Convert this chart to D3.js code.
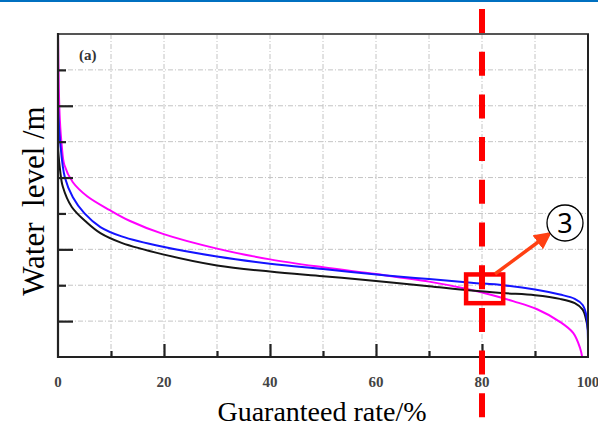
<!DOCTYPE html>
<html><head><meta charset="utf-8">
<script src="https://cdn.jsdelivr.net/npm/d3@7"></script>
<style>html,body{margin:0;padding:0;background:#fff;}svg{display:block;}</style>
</head><body>
<svg id="c" width="598" height="427"></svg>
<script>
const xTicks = [0, 20, 40, 60, 80, 100];
const xMinorTicks = [10, 30, 50, 70, 90];
const yMajorTicks = [1, 3, 5, 7];
const yMinorTicks = [2, 4, 6, 8];
const magenta = [[0,9.0],[0.15,7.5],[0.35,6.6],[0.7,5.9],[1.2,5.35],[2.8,4.87],[5.5,4.48],[9.8,4.09],[13.6,3.79],[19.8,3.43],[30,3.02],[40,2.72],[50,2.50],[60,2.31],[70,2.10],[77,1.90],[82,1.72],[86,1.55],[90.4,1.33],[94.7,0.98],[97.2,0.67],[98.5,0.25],[98.9,0]];
const blue = [[0,7.0],[0.4,6.0],[1.3,5.0],[2.8,4.45],[5,4.0],[8,3.62],[12,3.36],[19.8,3.07],[30,2.80],[40,2.60],[50,2.45],[62,2.27],[70,2.17],[78,2.07],[84,2.00],[90,1.88],[94.7,1.74],[97.5,1.62],[99,1.45],[99.7,1.15],[100,0.45]];
const black = [[0,5.8],[0.4,5.2],[0.9,4.75],[2.6,4.18],[5.5,3.74],[8,3.45],[12,3.18],[19.8,2.86],[30,2.55],[40,2.38],[50,2.25],[60,2.12],[70,1.97],[78,1.85],[84,1.78],[90,1.72],[94.7,1.62],[97.5,1.50],[99,1.32],[99.7,1.0],[100,0.75]];

const svg = d3.select('#c');
const L = 58, R = 588, T = 34, B = 357;
const x = d3.scaleLinear().domain([0,100]).range([L,R]);
const y = d3.scaleLinear().domain([0,9]).range([B,T]);

// top blue rule
svg.append('rect').attr('x',0).attr('y',0).attr('width',598).attr('height',2).attr('fill','#0070C0');

// grid
const g = svg.append('g');
g.selectAll('.gx').data(d3.range(10,100,10)).join('line')
  .attr('x1',d=>x(d)).attr('x2',d=>x(d)).attr('y1',T).attr('y2',B)
  .attr('stroke','#c4c4c4').attr('stroke-width',1).attr('stroke-dasharray','5,2,1,2');
g.selectAll('.gy').data(d3.range(1,9,1)).join('line')
  .attr('x1',L).attr('x2',R).attr('y1',d=>y(d)).attr('y2',d=>y(d))
  .attr('stroke','#c4c4c4').attr('stroke-width',1).attr('stroke-dasharray','5,2,1,2');

// curves
const line = d3.line().x(d=>x(d[0])).y(d=>y(d[1])).curve(d3.curveCatmullRom.alpha(0.5));
[[magenta,'#ff00ff'],[black,'#151515'],[blue,'#1414ff']].forEach(([d,c])=>{
  svg.append('path').attr('d',line(d)).attr('fill','none').attr('stroke',c).attr('stroke-width',2);
});

// frame
svg.append('line').attr('x1',L).attr('x2',R+1).attr('y1',T).attr('y2',T).attr('stroke','#555').attr('stroke-width',2.2);
svg.append('line').attr('x1',R).attr('x2',R).attr('y1',T).attr('y2',B).attr('stroke','#222').attr('stroke-width',2);
svg.append('line').attr('x1',L).attr('x2',L).attr('y1',T-1).attr('y2',B+1).attr('stroke','#222').attr('stroke-width',2.2);
svg.append('line').attr('x1',L-1).attr('x2',R+1).attr('y1',B).attr('y2',B).attr('stroke','#222').attr('stroke-width',2.2);

// axes ticks (inside)
function styleAxis(sel){ sel.select('.domain').remove(); sel.selectAll('line').attr('stroke','#222').attr('stroke-width',2.2); }
svg.append('g').attr('transform',`translate(0,${B})`)
  .call(d3.axisTop(x).tickValues(xTicks.slice(1,-1)).tickSize(13).tickFormat('')).call(styleAxis);
svg.append('g').attr('transform',`translate(0,${B})`)
  .call(d3.axisTop(x).tickValues(xMinorTicks).tickSize(6).tickFormat('')).call(styleAxis);
svg.append('g').attr('transform',`translate(${L},0)`)
  .call(d3.axisRight(y).tickValues(yMajorTicks).tickSize(15).tickFormat('')).call(styleAxis);
svg.append('g').attr('transform',`translate(${L},0)`)
  .call(d3.axisRight(y).tickValues(yMinorTicks).tickSize(8).tickFormat('')).call(styleAxis);

// tick labels
svg.append('g').selectAll('text').data(xTicks).join('text')
  .attr('x',d=>x(d)).attr('y',387).attr('text-anchor','middle')
  .attr('font-family','"Liberation Serif","DejaVu Serif",serif').attr('font-weight','bold')
  .attr('font-size',15).attr('fill','#444').text(d=>d);

// (a)
svg.append('text').attr('x',79).attr('y',60).attr('font-family','"Liberation Serif",serif')
  .attr('font-weight','bold').attr('font-size',15).attr('fill','#333').text('(a)');

// axis titles
svg.append('text').attr('x',322).attr('y',421).attr('text-anchor','middle')
  .attr('font-family','"Liberation Serif",serif').attr('font-size',28).attr('fill','#000')
  .text('Guaranteed rate/%');
svg.append('text').attr('transform','translate(44,201) rotate(-90)').attr('text-anchor','middle')
  .attr('font-family','"Liberation Serif",serif').attr('font-size',31).attr('fill','#000')
  .style('white-space','pre')
  .text('Water  level /m');

// red dashed vertical at 80
svg.append('line').attr('x1',x(80)).attr('x2',x(80)).attr('y1',9).attr('y2',427)
  .attr('stroke','#ff0000').attr('stroke-width',6).attr('stroke-dasharray','24,18.7');

// red square
svg.append('rect').attr('x',x(77)).attr('y',y(2.3)).attr('width',x(84)-x(77)).attr('height',y(1.5)-y(2.3))
  .attr('fill','none').attr('stroke','#ff0000').attr('stroke-width',4.5);

// arrow
const defs = svg.append('defs');
defs.append('marker').attr('id','ah').attr('viewBox','0 0 10 10').attr('refX',8).attr('refY',5)
  .attr('markerWidth',5).attr('markerHeight',5).attr('orient','auto')
  .append('path').attr('d','M0,0 L10,5 L0,10 Z').attr('fill','#ff4013');
svg.append('line').attr('x1',495).attr('y1',274).attr('x2',549).attr('y2',234)
  .attr('stroke','#ff4013').attr('stroke-width',3.5).attr('marker-end','url(#ah)');

// circled 3
svg.append('circle').attr('cx',565).attr('cy',223).attr('r',18).attr('fill','#fff').attr('stroke','#000').attr('stroke-width',1.3);
svg.append('text').attr('x',565).attr('y',233).attr('text-anchor','middle')
  .attr('font-family','"Noto Sans","DejaVu Sans",sans-serif').attr('font-size',27).attr('fill','#000').text('3');
</script>
</body></html>
